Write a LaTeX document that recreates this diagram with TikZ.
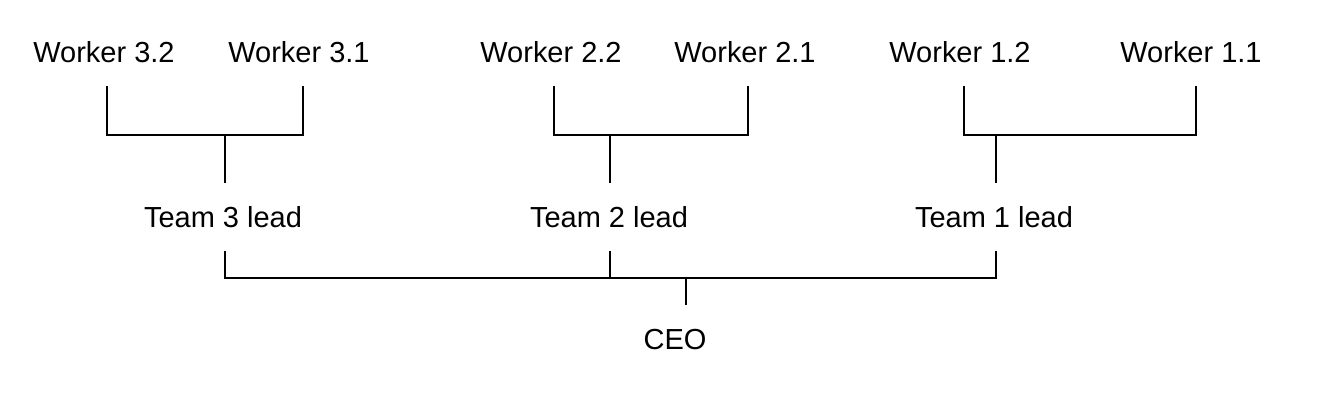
\documentclass[tikz,border=0pt]{standalone}
\usepackage{fontspec}
\setmainfont{Liberation Sans}
\usetikzlibrary{positioning}

\begin{document}
\begin{tikzpicture}[x=0.02cm, y=-0.02cm, line width=0.7pt,
    every node/.style={font=\fontsize{16.5}{19}\selectfont, inner sep=0pt,
      minimum height=1.34cm, text height=1.15em, text depth=0pt}]
  \useasboundingbox (0,0) rectangle (1333,402);

  % Workers (en haut)
  \node (w32) at (104,52) {Worker 3.2};
  \node (w31) at (299,52) {Worker 3.1};
  \node (w22) at (551,52) {Worker 2.2};
  \node (w21) at (745,52) {Worker 2.1};
  \node (w12) at (960,52) {Worker 1.2};
  \node (w11) at (1191,52) {Worker 1.1};

  % Team leads
  \node (t3) at (223,217) {Team 3 lead};
  \node (t2) at (609,217) {Team 2 lead};
  \node (t1) at (994,217) {Team 1 lead};

  % CEO
  \node (ceo) at (675,339) {CEO};

  % Team 3
  \draw ([xshift=0.06cm]w32.south) -- ++(0,49) -| ([xshift=0.08cm]w31.south);
  \draw ([xshift=0.04cm]t3.north) -- ++(0,-49);

  % Team 2
  \draw ([xshift=0.06cm]w22.south) -- ++(0,49) -| ([xshift=0.06cm]w21.south);
  \draw ([xshift=0.02cm]t2.north) -- ++(0,-49);

  % Team 1
  \draw ([xshift=0.08cm]w12.south) -- ++(0,49) -| ([xshift=0.1cm]w11.south);
  \draw ([xshift=0.04cm]t1.north) -- ++(0,-49);

  % Leads -> CEO
  \draw ([xshift=0.04cm]t3.south) -- ++(0,27) -| ([xshift=0.04cm]t1.south);
  \draw ([xshift=0.02cm]t2.south) -- ++(0,27);
  \draw ([xshift=0.22cm]ceo.north) -- ++(0,-28);
\end{tikzpicture}
\end{document}
